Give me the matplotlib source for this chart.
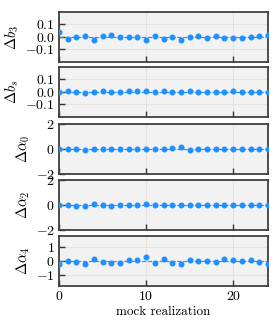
import numpy as np
import matplotlib
matplotlib.use("Agg")
import matplotlib.pyplot as plt

plt.rcParams['font.family'] = 'serif'
plt.rcParams['font.serif'] = ['cmr10']
plt.rcParams['mathtext.fontset'] = 'cm'
plt.rcParams['axes.formatter.use_mathtext'] = True
plt.rcParams['axes.unicode_minus'] = True

# mock realization index
mocks = np.arange(25)

# parameter shifts per mock
d_b3 = [0.036, -0.02, 0.0, 0.008, -0.03, 0.008, 0.015, 0.0, -0.003, -0.003,
        -0.028, 0.005, -0.015, 0.0, -0.028, -0.005, 0.005, -0.013, 0.008, -0.008,
        -0.013, -0.01, -0.003, 0.003, 0.013]
d_bs = [0.0, 0.003, -0.003, -0.008, -0.003, 0.003, -0.003, 0.0, 0.005, 0.01,
        0.01, -0.003, 0.008, -0.005, 0.0, 0.008, 0.0, 0.0, 0.0, 0.0,
        0.003, 0.0, 0.0, 0.0, -0.003]
d_a0 = [0.0, 0.03, 0.0, -0.05, 0.0, 0.0, 0.0, 0.0, 0.0, 0.0,
        -0.03, 0.0, 0.0, 0.05, 0.15, -0.05, 0.0, 0.0, 0.0, 0.0,
        0.0, 0.0, 0.0, 0.0, 0.0]
d_a2 = [0.0, 0.0, -0.05, -0.08, 0.05, 0.0, -0.05, -0.03, 0.03, 0.03,
        0.08, 0.0, 0.0, 0.0, -0.02, 0.0, 0.0, 0.0, 0.0, 0.02,
        0.0, 0.0, 0.0, 0.0, 0.0]
d_a4 = [-0.19, 0.02, -0.1, -0.19, 0.14, -0.05, -0.16, -0.14, 0.05, 0.1,
        0.3, -0.12, 0.14, -0.14, -0.23, 0.07, 0.02, -0.02, -0.05, 0.14,
        0.05, 0.02, 0.05, -0.1, -0.2]

series = [d_b3, d_bs, d_a0, d_a2, d_a4]
labels = [r'$\Delta b_3$', r'$\Delta b_s$', r'$\Delta \alpha_0$',
          r'$\Delta \alpha_2$', r'$\Delta \alpha_4$']
ylims = [(-0.2, 0.195), (-0.2, 0.197), (-2, 2), (-2, 2), (-1.75, 1.75)]
yticks = [[-0.1, 0.0, 0.1], [-0.1, 0.0, 0.1], [-2, 0, 2], [-2, 0, 2], [-1, 0, 1]]

W, H = 280, 331
fig = plt.figure(figsize=(W / 100, H / 100), dpi=100)

blue = '#1e90ff'
tops = [12, 67, 124, 180, 236]
h = 50
axes = []
for i, (vals, lab) in enumerate(zip(series, labels)):
    ax = fig.add_axes([59 / W, 1 - (tops[i] + h) / H, 209 / W, h / H])
    ax.set_facecolor('#f2f2f2')
    ax.grid(True, color='#e2e2e2', linewidth=0.8)
    ax.set_axisbelow(True)
    ax.axhline(0, color=blue, linestyle='--', linewidth=0.8, zorder=2)
    ax.plot(mocks, vals, 'o', color=blue, markersize=3.3, zorder=3)
    ax.set_xlim(0, 24)
    ax.set_ylim(*ylims[i])
    ax.set_yticks(yticks[i])
    ax.set_xticks([0, 10, 20])
    ax.set_ylabel(lab, fontsize=10.5, labelpad=3)
    ax.tick_params(direction='in', length=4, width=1, color='#333333',
                   labelsize=10, pad=3)
    for sp in ax.spines.values():
        sp.set_color('#404040')
        sp.set_linewidth(1.3)
    if i < 4:
        ax.tick_params(labelbottom=False)
    else:
        ax.set_xlabel('mock realization', fontsize=9.5, labelpad=2)
    axes.append(ax)

fig.align_ylabels(axes)
fig.savefig('out.png', dpi=100)
